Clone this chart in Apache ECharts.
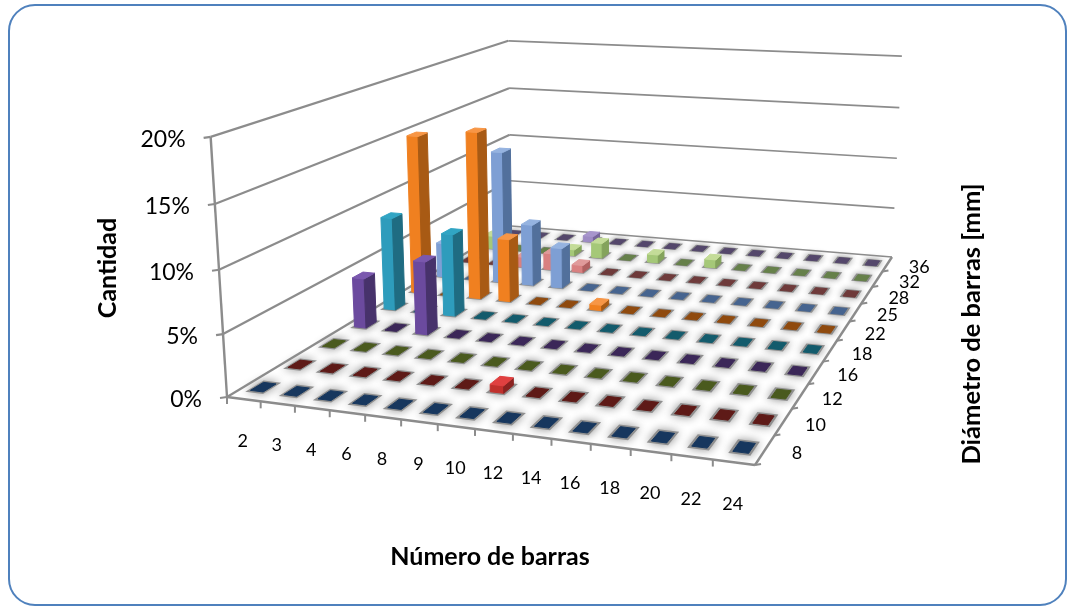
<!DOCTYPE html>
<html>
<head>
<meta charset="utf-8">
<style>html,body{margin:0;padding:0;background:#fff}#chart{width:1071px;height:608px}</style>
<script src="https://cdn.jsdelivr.net/npm/echarts@6/dist/echarts.min.js"></script>
</head>
<body>
<div id="chart"></div>
<script>
// Categories
const numeroBarras = ['2','3','4','6','8','9','10','12','14','16','18','20','22','24'];
const diametros = ['8','10','12','16','18','22','25','28','32','36'];
const ticksCantidad = [0, 5, 10, 15, 20];

// Share of elements (%) per bar count, one list per bar diameter
const d8  = [0,0,0,0,0,0,0,0,0,0,0,0,0,0];
const d10 = [0,0,0,0,0,0,0.6,0,0,0,0,0,0,0];
const d12 = [0,0,0,0,0,0,0,0,0,0,0,0,0,0];
const d16 = [4.4,0,6.4,0,0,0,0,0,0,0,0,0,0,0];
const d18 = [8.4,0,7.4,0,0,0,0,0,0,0,0,0,0,0];
const d22 = [14.7,0,15.4,5.8,0,0,0.5,0,0,0,0,0,0,0];
const d25 = [3.3,0,12.5,5.8,3.8,0,0,0,0,0,0,0,0,0];
const d28 = [0,0,1.0,1.6,0.7,0,0,0,0,0,0,0,0,0];
const d32 = [1.3,0,0,0.6,1.5,0,0.8,0,0.8,0,0,0,0,0];
const d36 = [0,0,0,0.6,0,0,0,0,0,0,0,0,0,0];
const cantidades = [d8,d10,d12,d16,d18,d22,d25,d28,d32,d36];

// Face colours per diameter: flat (empty cell), top, front, side
const colores = [
  {flat:'#17375e', top:'#4f81bd', front:'#3d6ba3', side:'#264a75'},
  {flat:'#5e1a17', top:'#e04040', front:'#c0302c', side:'#8a2220'},
  {flat:'#4a5a1e', top:'#9bbb59', front:'#7f9a45', side:'#566b2c'},
  {flat:'#3b2758', top:'#7a58ae', front:'#6b4a9e', side:'#47326b'},
  {flat:'#135b6c', top:'#31a5c4', front:'#2e9cbc', side:'#1f6c82'},
  {flat:'#8f4a0e', top:'#f79646', front:'#f08020', side:'#a85a14'},
  {flat:'#46648f', top:'#95b3e0', front:'#7e9fd4', side:'#52709c'},
  {flat:'#6e3a3a', top:'#e09a9a', front:'#d98080', side:'#b06060'},
  {flat:'#66804a', top:'#c4dc98', front:'#a5c878', side:'#84a35c'},
  {flat:'#54476b', top:'#a795cc', front:'#9e8bc4', side:'#76659a'}
];

// Perspective of the box: floor corners and wall-top corners, in page pixels
const suelo = {fl:[227,397], fr:[755,465], br:[892,257], bl:[511,226]};
const arriba = {fl:[214,140], bl:[505,37], br:[903,58]};

function crearProyeccion() {
  const [x0,y0] = suelo.fl, [x1,y1] = suelo.fr, [x2,y2] = suelo.br, [x3,y3] = suelo.bl;
  const dx1=x1-x2, dx2=x3-x2, dy1=y1-y2, dy2=y3-y2, sx=x0-x1+x2-x3, sy=y0-y1+y2-y3;
  const det = dx1*dy2-dx2*dy1;
  const g = (sx*dy2-dx2*sy)/det, h = (dx1*sy-sx*dy1)/det;
  const a=x1-x0+g*x1, b=x3-x0+h*x3, d=y1-y0+g*y1, e=y3-y0+h*y3;
  // Height term: least-squares fit to the three wall-top corners
  const rincones = [[0,0,arriba.fl],[0,1,arriba.bl],[1,1,arriba.br]].map(([u,v,t]) => {
    const W=g*u+h*v+1, X=a*u+b*v+x0, Y=d*u+e*v+y0;
    return {tx:t[0], ty:t[1], bx:t[0]*W-X, by:t[1]*W-Y};
  });
  const media = k => rincones.reduce((s,c)=>s+c[k],0)/rincones.length;
  const mtx=media('tx'), mty=media('ty'), mbx=media('bx'), mby=media('by');
  let num=0, den=0;
  rincones.forEach(c => {
    num += (c.tx-mtx)*(c.bx-mbx) + (c.ty-mty)*(c.by-mby);
    den += (c.tx-mtx)**2 + (c.ty-mty)**2;
  });
  const r = -num/den, p = mbx+mtx*r, q = mby+mty*r;
  return (u,v,z) => {
    const w = g*u+h*v+1+r*z;
    return [(a*u+b*v+x0+p*z)/w, (d*u+e*v+y0+q*z)/w];
  };
}
const proyectar = crearProyeccion();
const nX = numeroBarras.length, nY = diametros.length;
const anchoU = 0.38/nX, anchoV = 0.34/nY;
const alturaDe = v => echarts.number.linearMap(v, [0, ticksCantidad[ticksCantidad.length-1]], [0, 1]);

// Normalised floor position of a cell, taken from the hidden cartesian axes
function celda(params, api) {
  const c = api.coord([api.value(0), api.value(1)]);
  const s = params.coordSys;
  return {u:(c[0]-s.x)/s.width, v:1-(c[1]-s.y)/s.height};
}
function huella(u,v,z,k) {
  const du=anchoU/2*k, dv=anchoV/2*k;
  return [proyectar(u-du,v-dv,z),proyectar(u+du,v-dv,z),proyectar(u+du,v+dv,z),proyectar(u-du,v+dv,z)];
}

function dibujarHalo(params, api) {
  const {u,v} = celda(params, api);
  return {type:'polygon', silent:true, shape:{points:huella(u,v,0,1.4)},
    style:{fill:'#8f8f8f', shadowBlur:6+4*(1-v), shadowColor:'#8f8f8f'}};
}
const cara = (points, color) => ({type:'polygon', shape:{points},
  style:{fill:color, stroke:color, lineWidth:1, lineJoin:'round'}});
const dibujarBarra = fila => (params, api) => {
  const {u,v} = celda(params, api);
  const val = api.value(2), col = colores[fila];
  if (!val) {
    return Object.assign(cara(huella(u,v,0,1), col.flat), {silent:true});
  }
  const z = alturaDe(val);
  const b = huella(u,v,0,1), t = huella(u,v,z,1);
  return {type:'group', silent:true, children:[
    cara([b[0],b[1],t[1],t[0]], col.front),
    cara([b[1],b[2],t[2],t[1]], col.side),
    cara(t, col.top)
  ]};
};

// Wall and floor lines plus the percentage labels
function dibujarPared(params, api) {
  const z = alturaDe(api.value(0));
  const a = proyectar(0,0,z), b = proyectar(0,1,z), c = proyectar(1,1,z);
  return {type:'group', silent:true, children:[
    {type:'polyline', shape:{points:[a,b]}, style:{stroke:'#8c8c8c', lineWidth:2.2, fill:'none'}},
    {type:'polyline', shape:{points:[b,c]}, style:{stroke:'#8c8c8c', lineWidth:1.7, fill:'none'}},
    {type:'line', shape:{x1:a[0]-7,y1:a[1]+1,x2:a[0],y2:a[1]}, style:{stroke:'#8c8c8c', lineWidth:2.2}},
    {type:'text', style:{x:a[0]-25,y:a[1]+3,text:api.value(0)+'%',align:'right',verticalAlign:'middle',
      fontFamily:'Lato',fontSize:23,fill:'#000'}}
  ]};
}
function dibujarMarco() {
  const pts = (a,b) => ({type:'polyline', shape:{points:[a,b]}, style:{stroke:'#8c8c8c', lineWidth:2.4, fill:'none'}});
  return {type:'group', silent:true, children:[
    pts(proyectar(0,0,0),proyectar(0,0,1)),
    pts(proyectar(0,0,0),proyectar(1,0,0)),
    pts(proyectar(1,0,0),proyectar(1,1,0))
  ]};
}
function dibujarEjeX(params, api) {
  const i = api.value(0);
  const t = proyectar(i/nX,0,0), c = proyectar((i+0.5)/nX,0,0);
  return {type:'group', silent:true, children:[
    {type:'line', shape:{x1:t[0],y1:t[1],x2:t[0],y2:t[1]+7}, style:{stroke:'#8c8c8c', lineWidth:2}},
    {type:'text', style:{x:c[0]-1,y:c[1]+42,text:numeroBarras[i],align:'center',verticalAlign:'middle',
      fontFamily:'Lato',fontSize:18,fill:'#000'}}
  ]};
}
function dibujarEjeY(params, api) {
  const i = api.value(0);
  const t = proyectar(1,i/nY,0), c = proyectar(1,(i+0.5)/nY,0);
  return {type:'group', silent:true, children:[
    {type:'line', shape:{x1:t[0],y1:t[1],x2:t[0]+6,y2:t[1]-1}, style:{stroke:'#8c8c8c', lineWidth:2}},
    {type:'text', style:{x:c[0]+32,y:c[1]+3,text:diametros[i],align:'center',verticalAlign:'middle',
      fontFamily:'Lato',fontSize:18,fill:'#000'}}
  ]};
}

const base = {type:'custom', coordinateSystem:'cartesian2d', animation:false, silent:true, clip:false};
const filas = cantidades.map((vals,f) => vals.map((v,c) => [c,f,v]));
const series = [
  {...base, name:'Pared', z:1, renderItem:dibujarPared, encode:{x:0,y:1}, data:ticksCantidad.map(t=>[t,0])},
  {...base, name:'Marco', z:2, renderItem:dibujarMarco, data:[[0,0]]},
  {...base, name:'Eje X', z:2, renderItem:dibujarEjeX, data:numeroBarras.map((_,i)=>[i,0])},
  {...base, name:'Eje Y', z:2, renderItem:dibujarEjeY, data:diametros.map((_,i)=>[i,0])},
  {...base, name:'Sombra', z:3, renderItem:dibujarHalo, data:filas.flat()}
];
for (let f = nY-1; f >= 0; f--) {
  series.push({...base, name:diametros[f]+' mm', z:4, renderItem:dibujarBarra(f), data:filas[f]});
}

const chart = echarts.init(document.getElementById('chart'), null, {renderer:'canvas'});
chart.setOption({
  backgroundColor:'#ffffff',
  animation:false,
  grid:{left:0, top:0, width:1000, height:500},
  xAxis:{type:'category', data:numeroBarras, show:false},
  yAxis:{type:'category', data:diametros, show:false},
  series,
  graphic:[
    {type:'rect', z:0, silent:true, shape:{x:9,y:5,width:1057,height:600,r:26},
      style:{fill:'#fff', stroke:'#4f81bd', lineWidth:2}},
    {type:'text', silent:true, z:10, x:490, y:557, style:{text:'Número de barras',align:'center',verticalAlign:'middle',
      fontFamily:'Lato',fontWeight:'bold',fontSize:25,fill:'#000'}},
    {type:'text', silent:true, z:10, x:108, y:268, rotation:Math.PI/2, style:{text:'Cantidad',align:'center',verticalAlign:'middle',
      fontFamily:'Lato',fontWeight:'bold',fontSize:25,fill:'#000'}},
    {type:'text', silent:true, z:10, x:972, y:324, rotation:Math.PI/2, style:{text:'Diámetro de barras [mm]',align:'center',verticalAlign:'middle',
      fontFamily:'Lato',fontWeight:'bold',fontSize:25.5,fill:'#000'}}
  ]
});
</script>
</body>
</html>
